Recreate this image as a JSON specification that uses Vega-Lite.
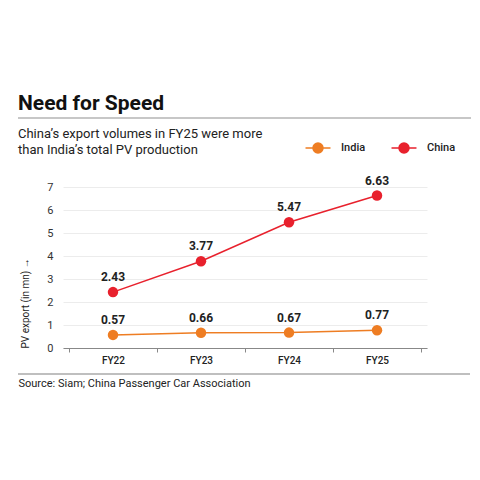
{
  "$schema": "https://vega.github.io/schema/vega-lite/v6.json",
  "autosize": "none",
  "width": 364,
  "height": 161,
  "padding": {"left": 63, "top": 187, "right": 53, "bottom": 132},
  "background": "white",
  "config": {
    "font": "Roboto",
    "view": {"stroke": null}
  },
  "title": {
    "text": "Need for Speed",
    "subtitle": ["China’s export volumes in FY25 were more", "than India’s total PV production"],
    "anchor": "start",
    "frame": "group",
    "dx": -45,
    "offset": -40,
    "zindex": 0,
    "font": "Roboto",
    "fontSize": 21,
    "fontWeight": "bold",
    "color": "#111111",
    "subtitleFont": "Roboto",
    "subtitleFontSize": 13,
    "subtitleColor": "#222222",
    "subtitlePadding": 14,
    "subtitleLineHeight": 16
  },
  "data": {
    "values": [
      {"year": "FY22", "country": "India", "value": 0.57},
      {"year": "FY23", "country": "India", "value": 0.66},
      {"year": "FY24", "country": "India", "value": 0.67},
      {"year": "FY25", "country": "India", "value": 0.77},
      {"year": "FY22", "country": "China", "value": 2.43},
      {"year": "FY23", "country": "China", "value": 3.77},
      {"year": "FY24", "country": "China", "value": 5.47},
      {"year": "FY25", "country": "China", "value": 6.63}
    ]
  },
  "encoding": {
    "x": {
      "field": "year",
      "type": "nominal",
      "sort": ["FY22", "FY23", "FY24", "FY25"],
      "scale": {"paddingInner": 0, "paddingOuter": 0.068},
      "axis": {
        "title": "Source: Siam; China Passenger Car Association",
        "titleX": -45,
        "titleY": 35,
        "titleAlign": "left",
        "titleBaseline": "middle",
        "titleFont": "Roboto",
        "titleFontSize": 11,
        "titleFontWeight": "normal",
        "titleColor": "#222222",
        "labelAngle": 0,
        "labelFont": "Roboto",
        "labelFontSize": 10,
        "labelFontWeight": 500,
        "labelColor": "#222222",
        "labelPadding": 3,
        "tickBand": "extent",
        "tickSize": 4,
        "tickColor": "#888888",
        "domainColor": "#888888",
        "grid": false
      }
    },
    "y": {
      "field": "value",
      "type": "quantitative",
      "scale": {"domain": [0, 7], "nice": false},
      "axis": {
        "values": [0, 1, 2, 3, 4, 5, 6, 7],
        "title": "PV export (in mn)  →",
        "titleX": -38,
        "titleY": 161,
        "titleAngle": -90,
        "titleAlign": "left",
        "titleBaseline": "middle",
        "titleFont": "Roboto",
        "titleFontSize": 10,
        "titleFontWeight": "normal",
        "titleColor": "#222222",
        "labelFont": "Roboto",
        "labelFontSize": 11,
        "labelColor": "#333333",
        "labelPadding": 10,
        "ticks": false,
        "domain": false,
        "gridColor": "#ececec",
        "gridWidth": 1
      }
    },
    "color": {
      "field": "country",
      "type": "nominal",
      "scale": {"domain": ["India", "China"], "range": ["#ee7d23", "#e8212d"]},
      "legend": {
        "title": null,
        "orient": "none",
        "legendX": 248,
        "legendY": -46,
        "direction": "horizontal",
        "columns": 2,
        "columnPadding": 22,
        "symbolType": "M-2,0H-0.8M0.8,0H2M-0.8,0A0.8,0.8 0 1,1 0.8,0A0.8,0.8 0 1,1 -0.8,0",
        "symbolSize": 156,
        "symbolStrokeWidth": 1.5,
        "labelFont": "Roboto",
        "labelFontSize": 11,
        "labelFontWeight": 500,
        "labelColor": "#222222",
        "labelOffset": 16
      }
    }
  },
  "layer": [
    {
      "data": {"values": [{"k": "bottom"}]},
      "mark": {"type": "rule", "color": "#aaaaaa", "strokeWidth": 1.5},
      "encoding": {
        "x": {"value": -45},
        "x2": {"value": 407},
        "y": {"value": 187},
        "color": null
      }
    },
    {
      "data": {"values": [{"k": "top"}]},
      "mark": {"type": "rule", "color": "#b5b5b5", "strokeWidth": 1.5, "zindex": 10},
      "encoding": {
        "x": {"value": -45},
        "x2": {"value": 408},
        "y": {"value": -69},
        "color": null
      }
    },
    {
      "mark": {"type": "line", "strokeWidth": 1.5}
    },
    {
      "mark": {"type": "point", "filled": true, "opacity": 1, "size": 110}
    },
    {
      "mark": {"type": "text", "dy": -15, "fontSize": 12, "fontWeight": "bold", "color": "#222222", "font": "Roboto"},
      "encoding": {
        "text": {"field": "value", "type": "quantitative", "format": ".2f"},
        "color": null
      }
    }
  ]
}
